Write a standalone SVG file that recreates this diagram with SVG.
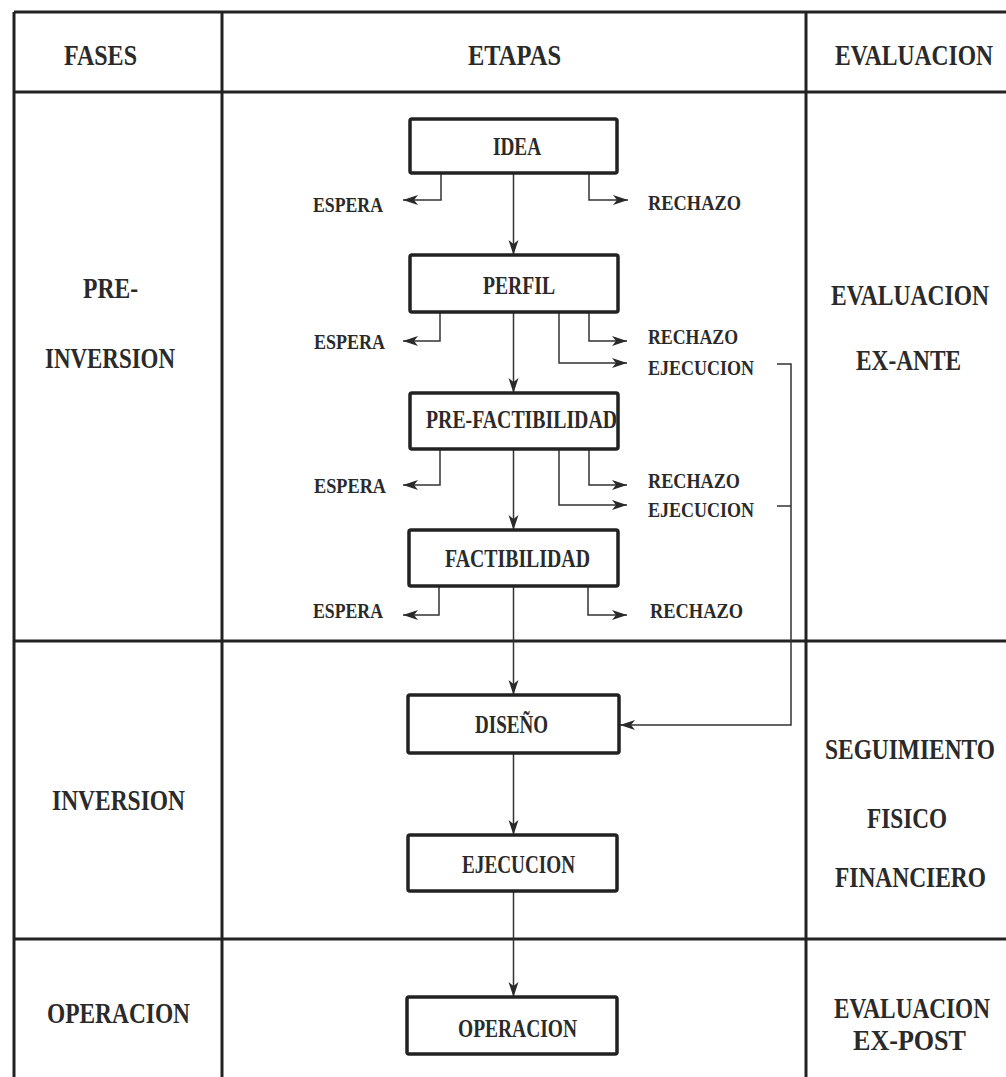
<svg xmlns="http://www.w3.org/2000/svg" width="1006" height="1077" viewBox="0 0 1006 1077">
<defs>
<marker id="ah" markerUnits="userSpaceOnUse" markerWidth="16" markerHeight="12" refX="15" refY="5" orient="auto">
<path d="M0,0 L15,5 L0,10 L4,5 Z" fill="#2a2a2a"/>
</marker>
<style>
text{font-family:"Liberation Serif","Times New Roman",serif;font-weight:bold;fill:#2a2a2a}
.h{font-size:30px}
.r{font-size:23px}
.n{font-size:25px}
.s{font-size:21px}
.frame{stroke:#222;stroke-width:3;fill:none}
.box{fill:#fff;stroke:#222;stroke-width:3.5}
.c{fill:none;stroke:#333;stroke-width:1.5}
.ca{fill:none;stroke:#333;stroke-width:1.5;marker-end:url(#ah)}
</style>
</defs>
<rect x="0" y="0" width="1006" height="1077" fill="#fff"/>
<g id="table">
<path class="frame" d="M14,12 H1006 M14,92 H1006 M14,641 H1006 M14,939 H1006 M14,12 V1077 M222,12 V1077 M806,12 V1077"/>
</g>
<g id="headers">
<text class="h" x="64" y="65" textLength="73" lengthAdjust="spacingAndGlyphs">FASES</text>
<text class="h" x="468" y="65" textLength="93" lengthAdjust="spacingAndGlyphs">ETAPAS</text>
<text class="r" transform="translate(835,65) scale(1,1.3)" x="0" y="0" textLength="158" lengthAdjust="spacingAndGlyphs">EVALUACION</text>
</g>
<g id="fases">
<text class="h" x="83" y="298" textLength="55" lengthAdjust="spacingAndGlyphs">PRE-</text>
<text class="h" x="45" y="368" textLength="130" lengthAdjust="spacingAndGlyphs">INVERSION</text>
<text class="h" x="52" y="810" textLength="133" lengthAdjust="spacingAndGlyphs">INVERSION</text>
<text class="h" x="47" y="1023" textLength="143" lengthAdjust="spacingAndGlyphs">OPERACION</text>
</g>
<g id="evaluacion">
<text class="r" transform="translate(831,305) scale(1,1.3)" x="0" y="0" textLength="158" lengthAdjust="spacingAndGlyphs">EVALUACION</text>
<text class="r" transform="translate(856,370) scale(1,1.3)" x="0" y="0" textLength="105" lengthAdjust="spacingAndGlyphs">EX-ANTE</text>
<text class="r" transform="translate(825,759) scale(1,1.3)" x="0" y="0" textLength="170" lengthAdjust="spacingAndGlyphs">SEGUIMIENTO</text>
<text class="r" transform="translate(867,828) scale(1,1.3)" x="0" y="0" textLength="80" lengthAdjust="spacingAndGlyphs">FISICO</text>
<text class="r" transform="translate(835,887) scale(1,1.3)" x="0" y="0" textLength="151" lengthAdjust="spacingAndGlyphs">FINANCIERO</text>
<text class="r" transform="translate(834,1018) scale(1,1.3)" x="0" y="0" textLength="156" lengthAdjust="spacingAndGlyphs">EVALUACION</text>
<text class="r" transform="translate(853,1050) scale(1,1.3)" x="0" y="0" textLength="113" lengthAdjust="spacingAndGlyphs">EX-POST</text>
</g>
<g id="connectors">
<path class="ca" d="M513.5,173 V255"/>
<path class="ca" d="M513.5,312 V393"/>
<path class="ca" d="M513.5,449 V530"/>
<path class="ca" d="M513.5,586 V695"/>
<path class="ca" d="M513.5,753 V835"/>
<path class="ca" d="M513.5,891 V997"/>
<path class="ca" d="M441,173 V200 H403"/>
<path class="ca" d="M589,173 V200 H628"/>
<path class="ca" d="M440,312 V341 H403"/>
<path class="ca" d="M589,312 V341 H627"/>
<path class="ca" d="M559,312 V363 H627"/>
<path class="ca" d="M440,449 V485 H403"/>
<path class="ca" d="M589,449 V485 H627"/>
<path class="ca" d="M559,449 V505 H627"/>
<path class="ca" d="M439,586 V615 H403"/>
<path class="ca" d="M588,586 V615 H627"/>
<path class="ca" d="M777,364 H791 V725 H620"/>
<path class="c" d="M777,506 H791"/>
</g>
<g id="labels">
<text class="s" x="313" y="212" textLength="70" lengthAdjust="spacingAndGlyphs">ESPERA</text>
<text class="s" x="648" y="210" textLength="93" lengthAdjust="spacingAndGlyphs">RECHAZO</text>
<text class="s" x="314" y="349" textLength="71" lengthAdjust="spacingAndGlyphs">ESPERA</text>
<text class="s" x="648" y="344" textLength="90" lengthAdjust="spacingAndGlyphs">RECHAZO</text>
<text class="s" x="648" y="375" textLength="106" lengthAdjust="spacingAndGlyphs">EJECUCION</text>
<text class="s" x="314" y="493" textLength="72" lengthAdjust="spacingAndGlyphs">ESPERA</text>
<text class="s" x="648" y="488" textLength="92" lengthAdjust="spacingAndGlyphs">RECHAZO</text>
<text class="s" x="648" y="517" textLength="106" lengthAdjust="spacingAndGlyphs">EJECUCION</text>
<text class="s" x="313" y="618" textLength="70" lengthAdjust="spacingAndGlyphs">ESPERA</text>
<text class="s" x="650" y="618" textLength="93" lengthAdjust="spacingAndGlyphs">RECHAZO</text>
</g>
<g id="idea">
<rect class="box" x="410" y="119" width="207" height="54" rx="2"/>
<text class="n" x="493" y="155" textLength="48" lengthAdjust="spacingAndGlyphs">IDEA</text>
</g>
<g id="perfil">
<rect class="box" x="410" y="255" width="208" height="57" rx="2"/>
<text class="n" x="483" y="294" textLength="72" lengthAdjust="spacingAndGlyphs">PERFIL</text>
</g>
<g id="prefactibilidad">
<rect class="box" x="410" y="393" width="208" height="56" rx="2"/>
<text class="n" x="426" y="428" textLength="191" lengthAdjust="spacingAndGlyphs">PRE-FACTIBILIDAD</text>
</g>
<g id="factibilidad">
<rect class="box" x="409" y="530" width="209" height="56" rx="2"/>
<text class="n" x="445" y="567" textLength="145" lengthAdjust="spacingAndGlyphs">FACTIBILIDAD</text>
</g>
<g id="diseno">
<rect class="box" x="408" y="695" width="211" height="58" rx="2"/>
<text class="n" x="475" y="733" textLength="73" lengthAdjust="spacingAndGlyphs">DISEÑO</text>
</g>
<g id="ejecucion">
<rect class="box" x="408" y="835" width="209" height="56" rx="2"/>
<text class="n" x="462" y="873" textLength="113" lengthAdjust="spacingAndGlyphs">EJECUCION</text>
</g>
<g id="operacion">
<rect class="box" x="407" y="997" width="210" height="57" rx="2"/>
<text class="n" x="458" y="1037" textLength="119" lengthAdjust="spacingAndGlyphs">OPERACION</text>
</g>
</svg>
